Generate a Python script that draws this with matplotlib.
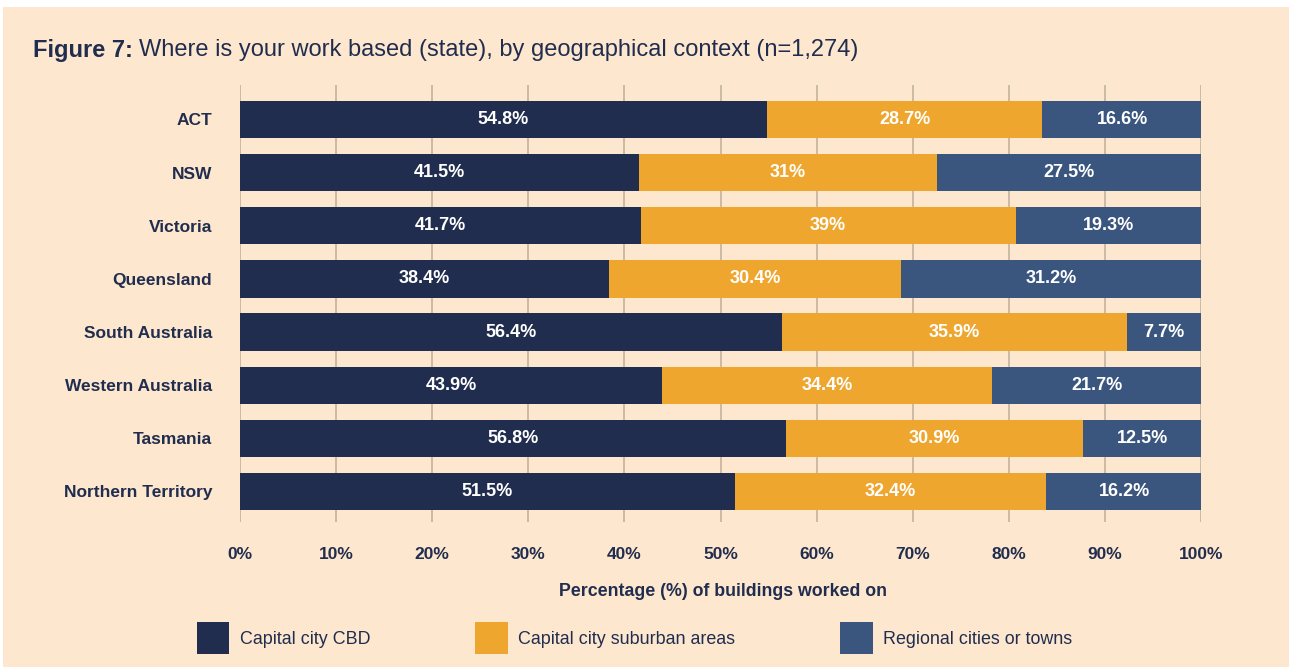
import matplotlib
matplotlib.use("Agg")
import matplotlib.pyplot as plt
from matplotlib.patches import Patch
import numpy as np

plt.rcParams['font.family'] = ['Liberation Sans', 'DejaVu Sans']

# ── data ──────────────────────────────────────────────────────────────────
states = ["ACT", "NSW", "Victoria", "Queensland", "South Australia",
          "Western Australia", "Tasmania", "Northern Territory"]
cbd      = [54.8, 41.5, 41.7, 38.4, 56.4, 43.9, 56.8, 51.5]
suburban = [28.7, 31.0, 39.0, 30.4, 35.9, 34.4, 30.9, 32.4]
regional = [16.6, 27.5, 19.3, 31.2, 7.7, 21.7, 12.5, 16.2]
series_names = ["Capital city CBD", "Capital city suburban areas",
                "Regional cities or towns"]
xticks = list(range(0, 101, 10))

# ── style ─────────────────────────────────────────────────────────────────
BG     = "#FDE8CF"
NAVY   = "#212D4E"
ORANGE = "#EEA62E"
BLUE   = "#3A567E"
GRID   = "#CBBBA6"
colors = [NAVY, ORANGE, BLUE]

fig = plt.figure(figsize=(12.89, 6.72), dpi=100)
fig.patch.set_facecolor("white")
# peach panel behind everything
fig.patches.append(plt.Rectangle((3/1289, 5/672), 1 - 3/1289, 1 - 12/672,
                                 transform=fig.transFigure, facecolor=BG,
                                 edgecolor="none", zorder=-10))

ax = fig.add_axes([240/1289, 1 - 522/672, 961/1289, 437/672])
ax.set_facecolor("none")

y = np.arange(len(states))
left = np.zeros(len(states))
for vals, col in zip([cbd, suburban, regional], colors):
    vals = np.array(vals)
    ax.barh(y, vals, left=left, height=0.70, color=col, zorder=3)
    for yi, l, v in zip(y, left, vals):
        ax.text(l + v/2, yi, f"{v:g}%", ha="center", va="center",
                color="white", fontsize=13, fontweight="bold", zorder=4)
    left += vals

ax.set_xlim(0, 100)
ax.set_ylim(7.574, -0.649)
ax.set_xticks(xticks)
ax.set_xticklabels([f"{t}%" for t in xticks])
ax.set_yticks(y)
ax.set_yticklabels(states)
ax.tick_params(axis="x", length=0, pad=18, labelsize=12.5, labelcolor=NAVY)
ax.tick_params(axis="y", length=0, pad=20, labelsize=12.5, labelcolor=NAVY)
for t in ax.get_xticklabels() + ax.get_yticklabels():
    t.set_fontweight("bold")
for s in ax.spines.values():
    s.set_visible(False)
ax.grid(axis="x", color=GRID, lw=1.4, zorder=1)
ax.grid(axis="y", visible=False)

# title
t1 = fig.text(33/1289, 1 - 50/672, "Figure 7:", fontsize=17, fontweight="bold",
              color=NAVY, va="center", ha="left")
fig.text(139/1289, 1 - 50/672,
         "Where is your work based (state), by geographical context (n=1,274)",
         fontsize=17, color=NAVY, va="center", ha="left")

fig.text(723/1289, 1 - 592/672, "Percentage (%) of buildings worked on",
         fontsize=12.8, fontweight="bold", color=NAVY, ha="center", va="center")

handles = [Patch(facecolor=c, edgecolor="none") for c in colors]
leg = fig.legend(handles, series_names, loc="center left",
                 bbox_to_anchor=(197/1289, 1 - 638/672), ncol=3, frameon=False,
                 fontsize=12.9, handlelength=1.79, handleheight=2.37,
                 handletextpad=0.61, columnspacing=5.86, borderaxespad=0,
                 borderpad=0)
for t in leg.get_texts():
    t.set_color(NAVY)

fig.savefig("out.png", dpi=100, facecolor=fig.get_facecolor())
